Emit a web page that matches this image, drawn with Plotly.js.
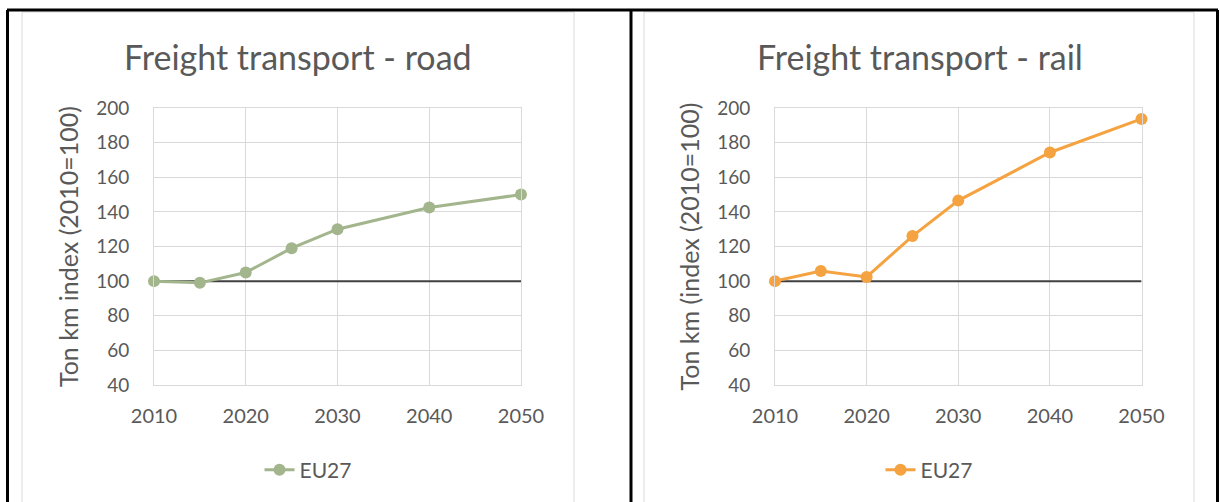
<!DOCTYPE html>
<html>
<head>
<meta charset="utf-8">
<script src="https://cdn.plot.ly/plotly-3.0.1.min.js"></script>
<style>
  html, body { margin: 0; padding: 0; background: #ffffff; }
  #chart { width: 1220px; height: 502px; }
</style>
</head>
<body>
<div id="chart"></div>
<script>
// Freight transport activity, ton-km index (2010 = 100), EU27
const years = [2010, 2015, 2020, 2025, 2030, 2040, 2050];
const roadIndex = [100, 99, 105, 119, 130, 142.5, 150];
const railIndex = [100, 105.8, 102.4, 126, 146.5, 174.3, 193.7];

const baselineYears = [2010, 2050];
const baselineValues = [100, 100];

const xTickVals = [2010, 2020, 2030, 2040, 2050];
const yTickVals = [40, 60, 80, 100, 120, 140, 160, 180, 200];

const panelTitles = ['Freight transport - road', 'Freight transport - rail'];
const yTitles = ['Ton km index (2010=100)', 'Ton km (index (2010=100)'];
const seriesName = 'EU27';

const W = 1220, H = 502;
const FONT = 'Lato, "Open Sans", sans-serif';
const TXT = '#595959';
const GRID = '#d9d9d9';
const ROAD = '#a3b58c';
const RAIL = '#f4a340';

const px = v => v / W;
const py = v => 1 - v / H;

function xAxis(domain) {
  return {
    domain: domain,
    range: [2010, 2050],
    tickvals: xTickVals,
    ticktext: xTickVals.map(String),
    showgrid: true, gridcolor: GRID, gridwidth: 1,
    showline: true, linecolor: GRID, linewidth: 1, mirror: true,
    zeroline: false, ticks: '',
    ticklabelstandoff: 13,
    tickfont: { family: FONT, size: 20, color: TXT },
    fixedrange: true
  };
}
function yAxis(title, anchor) {
  return {
    domain: [py(385), py(108)],
    anchor: anchor,
    range: [40, 200],
    tickvals: yTickVals,
    showgrid: true, gridcolor: GRID, gridwidth: 1,
    showline: true, linecolor: GRID, linewidth: 1, mirror: true,
    zeroline: false, ticks: '',
    ticklabelstandoff: 20,
    tickfont: { family: FONT, size: 19, color: TXT },
    title: { text: title, font: { family: FONT, size: 25, color: TXT }, standoff: 10 },
    fixedrange: true
  };
}

const traces = [
  { x: baselineYears, y: baselineValues, xaxis: 'x', yaxis: 'y', mode: 'lines',
    line: { color: '#404040', width: 2 }, showlegend: false, hoverinfo: 'skip' },
  { x: baselineYears, y: baselineValues, xaxis: 'x2', yaxis: 'y2', mode: 'lines',
    line: { color: '#404040', width: 2 }, showlegend: false, hoverinfo: 'skip' },
  { x: years, y: roadIndex, xaxis: 'x', yaxis: 'y', name: seriesName, legend: 'legend',
    mode: 'lines+markers', line: { color: ROAD, width: 3 }, cliponaxis: false,
    marker: { color: ROAD, size: 12 } },
  { x: years, y: railIndex, xaxis: 'x2', yaxis: 'y2', name: seriesName, legend: 'legend2',
    mode: 'lines+markers', line: { color: RAIL, width: 3 }, cliponaxis: false,
    marker: { color: RAIL, size: 12 } }
];

function legendAt(cx) {
  return {
    x: px(cx), y: py(470), xanchor: 'center', yanchor: 'middle',
    orientation: 'h', bgcolor: 'rgba(0,0,0,0)',
    font: { family: FONT, size: 21, color: TXT }
  };
}

const line = (x0, y0, x1, y1, color, width) => ({
  type: 'line', xref: 'paper', yref: 'paper',
  x0: px(x0), y0: py(y0), x1: px(x1), y1: py(y1),
  line: { color: color, width: width }, layer: 'above'
});

const layout = {
  width: W, height: H,
  margin: { l: 0, r: 0, t: 0, b: 0 },
  paper_bgcolor: '#ffffff', plot_bgcolor: '#ffffff',
  showlegend: true,
  xaxis: xAxis([px(154), px(521)]),
  yaxis: yAxis(yTitles[0], 'x'),
  xaxis2: xAxis([px(775), px(1141.5)]),
  yaxis2: yAxis(yTitles[1], 'x2'),
  legend: legendAt(308),
  legend2: legendAt(929),
  annotations: [
    { text: panelTitles[0], xref: 'paper', yref: 'paper', x: px(298), y: py(56),
      xanchor: 'center', yanchor: 'middle', showarrow: false,
      font: { family: FONT, size: 34, color: TXT } },
    { text: panelTitles[1], xref: 'paper', yref: 'paper', x: px(920), y: py(56),
      xanchor: 'center', yanchor: 'middle', showarrow: false,
      font: { family: FONT, size: 34, color: TXT } }
  ],
  shapes: [
    // chart area frames
    { type: 'rect', xref: 'paper', yref: 'paper', x0: px(22), x1: px(574), y0: py(520), y1: py(12),
      line: { color: GRID, width: 1 }, layer: 'below' },
    { type: 'rect', xref: 'paper', yref: 'paper', x0: px(644), x1: px(1194), y0: py(520), y1: py(12),
      line: { color: GRID, width: 1 }, layer: 'below' },
    // surrounding table borders
    line(7, 10, 1218, 10, '#000000', 3),
    line(7.5, 10, 7.5, 502, '#000000', 3),
    line(631, 10, 631, 502, '#000000', 3),
    line(1217.5, 10, 1217.5, 502, '#000000', 3)
  ]
};

Plotly.newPlot('chart', traces, layout, { staticPlot: true, displayModeBar: false });
</script>
</body>
</html>
